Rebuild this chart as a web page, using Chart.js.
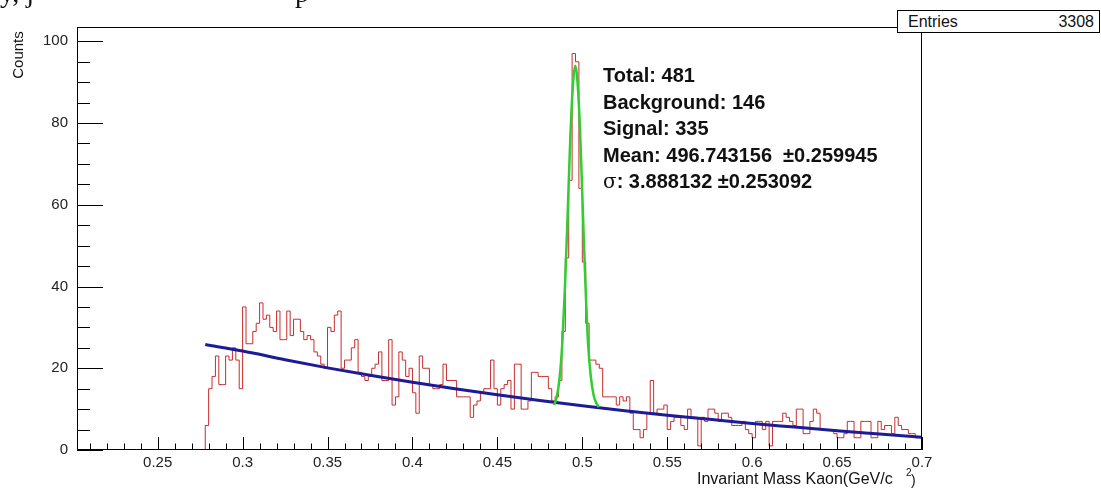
<!DOCTYPE html>
<html>
<head>
<meta charset="utf-8">
<title>Invariant Mass Kaon</title>
<script src="https://cdn.jsdelivr.net/npm/chart.js@4.4.1/dist/chart.umd.min.js"></script>
<style>
  body { margin: 0; background: #fff; }
  #page { position: relative; width: 1101px; height: 490px; overflow: hidden;
          font-family: "Liberation Sans", Arial, sans-serif; color: #111; }
  #massChart { position: absolute; left: 0; top: 0; }
  .txt { position: absolute; white-space: pre; }
  #fitInfo { left: 603px; top: 62px; font-weight: bold; font-size: 20px; line-height: 26.6px; }
  #fitInfo .sig { font-family: "DejaVu Serif", serif; font-weight: normal; }
  #statBox { left: 897px; top: 10px; width: 201px; height: 21px; border: 1px solid #000;
             background: #fff; font-size: 16px; line-height: 21px; }
  #statBox .lab { position: absolute; left: 10px; }
  #statBox .val { position: absolute; right: 5px; }
  #yTitle { left: -12px; top: 46px; width: 60px; text-align: center; font-size: 15px;
            line-height: 18px; transform: rotate(-90deg); }
  #xTitle { left: 697px; top: 470px; font-size: 16px; line-height: 18px; }
  #xSup { left: 906px; top: 467px; font-size: 10px; line-height: 12px; }
  #xClose { left: 911px; top: 472px; font-size: 14px; line-height: 16px; }
  .cutText { font-family: "Liberation Serif", serif; font-size: 28px; line-height: 28px; top: -21px; }
</style>
</head>
<body>
<div id="page">
  <canvas id="massChart" width="1101" height="490"></canvas>
  <div class="txt cutText" style="left:0px">y, j</div>
  <div class="txt cutText" style="left:295px">p</div>
  <div class="txt" id="yTitle">Counts</div>
  <div class="txt" id="xTitle">Invariant Mass Kaon(GeV/c</div>
  <div class="txt" id="xSup">2</div>
  <div class="txt" id="xClose">)</div>
  <div class="txt" id="fitInfo">Total: 481
Background: 146
Signal: 335
Mean: 496.743156  ±0.259945
<span class="sig">σ</span>: 3.888132 ±0.253092</div>
  <div class="txt" id="statBox"><span class="lab">Entries</span><span class="val">3308</span></div>
</div>
<script>
// histogram: 2 MeV bins starting at 0.278 GeV/c^2
const binStart = 0.278;
const binWidth = 0.002;
const counts = [
   6, 15, 18, 23, 16, 16, 23, 22, 25, 22, 15,
  35, 26, 26, 29, 31, 36, 32, 33, 30, 29, 34, 27, 27, 34,
  28, 32, 32, 29, 27, 28, 27, 24, 23, 21, 20, 30, 29, 33, 34,
  20, 22, 22, 25, 27, 19, 18, 17, 18, 20, 21, 24, 17, 17, 27,
  11, 13, 24, 22, 18, 20, 14,  9, 23, 20, 20, 16, 15, 15, 16,
  21, 17, 17, 17, 13, 13, 13, 13,  8, 11, 12, 14, 15, 15, 22,
  15, 11, 15, 16, 17, 10, 21, 21, 10, 10, 12, 19, 19, 18, 18,
  18, 15, 12, 13, 17, 29, 47, 66, 97, 95, 64, 46, 31, 22, 22,
  21, 20, 13, 13, 13, 13, 11, 13, 12, 13,  9,  5,  5,  3,  5,
   9, 17,  9, 10, 10, 11,  5,  7,  8,  8,  6,  5, 10,  8,  8,
   1,  8,  7, 10, 10,  9,  7,  9,  9,  8,  6,  6,  6,  7,  5,
   4,  3,  7,  7,  5,  7,  1,  7,  7,  7,  9,  8,  7,  6, 10,
  10,  4,  4,  7, 10,  9,  5,  5,  5,  5,  4,  3,  3,  4,  7,
   7,  3,  3,  7,  7,  7,  3,  3,  7,  5,  6,  6,  4,  8,  6,
   5,  5,  4,  4,  3,  3
];

// background fit (blue)
const bgX = [0.278, 0.30, 0.325, 0.35, 0.375, 0.40, 0.425, 0.45, 0.475, 0.50, 0.525, 0.55, 0.575, 0.60, 0.625, 0.65, 0.675, 0.70];
const bgY = [25.8, 24.2, 22.1, 20.1, 18.3, 16.6, 15.0, 13.5, 12.1, 10.8, 9.6, 8.5, 7.5, 6.5, 5.6, 4.7, 3.9, 3.1];

// signal + background fit (green)
const sigX = [0.4834, 0.4850, 0.4866, 0.4882, 0.4898, 0.4914, 0.4930, 0.4946, 0.4958, 0.4970, 0.4986, 0.5002, 0.5018, 0.5034, 0.5050, 0.5066, 0.5082, 0.5098];
const sigY = [11.0, 13.0, 17.5, 26, 40, 58, 77, 90, 94, 91, 79, 60, 41, 26, 18, 13.5, 11.5, 10.5];

const xTicks = [0.25, 0.3, 0.35, 0.4, 0.45, 0.5, 0.55, 0.6, 0.65, 0.7];
const xTickLabels = ['0.25', '0.3', '0.35', '0.4', '0.45', '0.5', '0.55', '0.6', '0.65', '0.7'];
const yTicks = [0, 20, 40, 60, 80, 100];

const histPoints = [{ x: binStart, y: 0 }];
counts.forEach((c, i) => histPoints.push({ x: binStart + i * binWidth, y: c }));
histPoints.push({ x: binStart + counts.length * binWidth, y: counts[counts.length - 1] });

// ROOT style frame with inward ticks
const rootFrame = {
    id: 'rootFrame',
    afterDatasetsDraw(chart) {
        const { ctx, chartArea: a, scales: { x, y } } = chart;
        ctx.save();
        ctx.strokeStyle = '#000';
        ctx.lineWidth = 1;
        ctx.beginPath();
        for (let k = 21; k <= 70; k++) {
            const px = Math.round(x.getPixelForValue(k / 100)) + 0.5;
            ctx.moveTo(px, a.bottom);
            ctx.lineTo(px, a.bottom - (k % 5 === 0 ? 13 : 6.5));
        }
        for (let k = 0; k <= 20; k++) {
            const py = Math.round(y.getPixelForValue(k * 5)) + 0.5;
            ctx.moveTo(a.left, py);
            ctx.lineTo(a.left + (k % 4 === 0 ? 26 : 13), py);
        }
        ctx.stroke();
        ctx.strokeRect(Math.round(a.left) + 0.5, Math.round(a.top) + 0.5,
                       Math.round(a.width) - 1, Math.round(a.height) - 1);
        ctx.restore();
    }
};

const ctx = document.getElementById('massChart').getContext('2d');
const massChart = new Chart(ctx, {
    type: 'line',
    data: {
        datasets: [
            {
                label: 'Signal fit',
                data: sigX.map((v, i) => ({ x: v, y: sigY[i] })),
                borderColor: 'rgb(50, 205, 50)',
                borderWidth: 2.5,
                pointRadius: 0,
                cubicInterpolationMode: 'monotone',
                order: 1
            },
            {
                label: 'Background fit',
                data: bgX.map((v, i) => ({ x: v, y: bgY[i] })),
                borderColor: 'rgb(28, 28, 150)',
                borderWidth: 3,
                pointRadius: 0,
                cubicInterpolationMode: 'monotone',
                order: 2
            },
            {
                label: 'Counts',
                data: histPoints,
                borderColor: 'rgb(200, 45, 45)',
                borderWidth: 1,
                pointRadius: 0,
                stepped: 'before',
                order: 3
            }
        ]
    },
    options: {
        responsive: false,
        animation: false,
        devicePixelRatio: 1,
        layout: { padding: { left: 0, top: 27, right: 179, bottom: 0 } },
        plugins: { legend: { display: false }, tooltip: { enabled: false } },
        scales: {
            x: {
                type: 'linear',
                min: 0.2025,
                max: 0.7,
                grid: { display: false, drawTicks: false },
                border: { display: false },
                afterBuildTicks: s => { s.ticks = xTicks.map(v => ({ value: v })); },
                afterFit: s => { s.height = 40; },
                ticks: {
                    autoSkip: false,
                    maxRotation: 0,
                    padding: 4,
                    color: '#222',
                    font: { family: 'Liberation Sans', size: 15 },
                    callback: (v, i) => xTickLabels[i]
                }
            },
            y: {
                min: 0,
                max: 103.5,
                grid: { display: false, drawTicks: false },
                border: { display: false },
                afterBuildTicks: s => { s.ticks = yTicks.map(v => ({ value: v })); },
                afterFit: s => { s.width = 77; },
                ticks: {
                    padding: 9,
                    color: '#222',
                    font: { family: 'Liberation Sans', size: 15 }
                }
            }
        }
    },
    plugins: [rootFrame]
});
</script>
</body>
</html>
